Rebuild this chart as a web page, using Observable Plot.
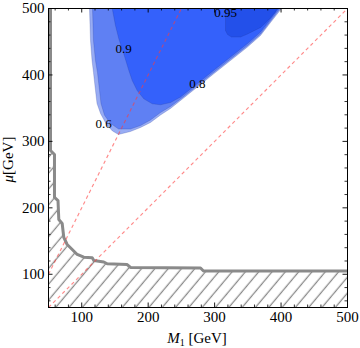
<!DOCTYPE html>
<html><head><meta charset="utf-8">
<script src="https://cdn.jsdelivr.net/npm/d3@7"></script>
<script src="https://cdn.jsdelivr.net/npm/@observablehq/plot@0.6"></script>
<style>body{margin:0;background:#fff;}</style>
</head><body><div id="chart"></div>
<script>
// ---- data (M1 [GeV], mu [GeV]) ----
const xTicks = [100, 200, 300, 400, 500];
const yTicks = [100, 200, 300, 400, 500];
const minorTicks = [60, 80, 120, 140, 160, 180, 220, 240, 260, 280, 320, 340, 360, 380, 420, 440, 460, 480];

// region with fraction >= 0.6
const level06 = [[111.7,500],[113.2,451.8],[115.5,421.7],[117.7,403.7],[120.7,376.6],[123,357],[128.3,342],[137.3,325.4],[146.3,315.6],[155.4,310.4],
  [173.4,314.9],[188.5,320.9],[203.5,328.4],[218.6,339.7],[233.6,349.5],[248.7,361.5],[263.7,373.6],[278.8,385.6],[298.3,401.4],[323.9,421.7],[349.5,442.1],[369.1,459.4],[384.1,478.9],[400.7,500]];
// region with fraction >= 0.8
const level08 = [[116.2,500],[117.7,451.8],[120.7,421.7],[123.7,403.7],[126.8,376.6],[129,357],[134.3,339.5],[142.6,327.7],[155.4,318.6],[173.4,318.6],[188.5,323.9],[203.5,332.2],
  [218.6,343.5],[233.6,352.5],[248.7,363.8],[263.7,375.8],[278.8,387.9],[298.3,403.7],[323.9,424],[349.5,444.3],[369.1,461.6],[384.1,481.2],[398.4,500]];
// region with fraction >= 0.9
const level09 = [[145.9,500],[150.8,474.4],[155.8,454.4],[163.3,431.8],[170.9,406.7],[176,391.6],[183.5,376.6],[193.4,364.1],[206.1,356.6],[218.6,355.1],
  [233.6,358.5],[248.7,366.8],[263.7,378.8],[278.8,390.9],[298.3,406.7],[323.9,427],[349.5,447.3],[369.1,464.6],[384.1,484.2],[396.2,500]];
// region with fraction >= 0.95
const level095 = [[316.4,500],[316.4,466.9],[319.4,460.9],[325.4,457.1],[339,457.1],[349.5,461.6],[369.1,471.4],[381.1,482.7],[390.1,493.2],[394.6,500]];

// boundary of the excluded (hatched) region
const excludedEdge = [[53,500],[53,286.3],[59,280.3],[59,215.6],[64.3,211],[65.5,182.4],[70.6,176.4],[73,155.4],[78.1,144.8],[85.7,137.3],[93.2,129.8],[103.1,125.7],[115.8,124.8],[118.2,120.8],[133.2,118.5],[138.3,115.8],[168.4,114.7],[173.4,110.3],[278.8,109.5],[283.3,105],[500,105]];
const excludedCorners = [[500,50],[50,50],[50,500]];

// reference lines mu = M1 and mu = 2 M1 (start / end points)
const refStartM1 = [50, 50];
const refStartMu = [50, 100];
const refEndM1 = [500, 250];
const refEndMu = [500, 500];

// contour labels
const contourText = ["0.6", "0.8", "0.9", "0.95"];
const contourM1 = [133, 274, 163, 316.4];
const contourMu = [326.5, 387, 439, 493];

// ---- chart ----
const labels = contourText.map((t, i) => ({t, x: contourM1[i], y: contourMu[i]}));
const refLines = refStartM1.map((x1, i) => ({x1, y1: refStartMu[i], x2: refEndM1[i], y2: refEndMu[i]}));
const P = {x: d => d[0], y: d => d[1]};
const edgeStroke = {stroke: "#1c2f8c", strokeOpacity: 0.3, strokeWidth: 0.7, clip: true};
const FH = 299; // frame size in px

const chart = Plot.plot({
  width: 360, height: 348,
  marginLeft: 48, marginRight: 13, marginTop: 8, marginBottom: 41,
  x: {domain: [50, 500], label: null},
  y: {domain: [50, 500], label: null},
  style: {fontFamily: "'Liberation Serif', serif", fontSize: "15px", background: "#fff", color: "black"},
  marks: [
    Plot.line(level06, {...P, fill: "#98acf4", ...edgeStroke}),
    Plot.line(level08, {...P, fill: "#5f80f3", ...edgeStroke}),
    Plot.line(level09, {...P, fill: "#3461fb", ...edgeStroke}),
    Plot.line(level095, {...P, fill: "#2350ea", ...edgeStroke}),
    Plot.line(excludedEdge.concat(excludedCorners), {...P, fill: "url(#hatch)", stroke: "none", clip: true}),
    Plot.line(excludedEdge, {...P, stroke: "#8a8a8a", strokeWidth: 3, strokeLinejoin: "round", clip: true}),
    Plot.link(refLines, {x1: "x1", y1: "y1", x2: "x2", y2: "y2", stroke: "#ff3c3c", strokeOpacity: 0.6, strokeWidth: 1.15, strokeDasharray: "3.5,3", clip: true}),
    Plot.text(labels, {x: "x", y: "y", text: "t", fontSize: 13, fill: "black"}),
    Plot.frame({stroke: "black", strokeWidth: 1}),
    // inward ticks on all four sides
    Plot.ruleX(minorTicks, {x: d => d, insetTop: FH - 2.5, strokeWidth: 0.8}),
    Plot.ruleX(minorTicks, {x: d => d, insetBottom: FH - 2.5, strokeWidth: 0.8}),
    Plot.ruleY(minorTicks, {y: d => d, insetRight: FH - 2.5, strokeWidth: 0.8}),
    Plot.ruleY(minorTicks, {y: d => d, insetLeft: FH - 2.5, strokeWidth: 0.8}),
    Plot.ruleX(xTicks, {x: d => d, insetTop: FH - 4.5, strokeWidth: 0.9}),
    Plot.ruleX(xTicks, {x: d => d, insetBottom: FH - 4.5, strokeWidth: 0.9}),
    Plot.ruleY(yTicks, {y: d => d, insetRight: FH - 4.5, strokeWidth: 0.9}),
    Plot.ruleY(yTicks, {y: d => d, insetLeft: FH - 4.5, strokeWidth: 0.9}),
    Plot.axisX({ticks: xTicks, tickSize: 0, tickPadding: 4, fontSize: 15}),
    Plot.axisY({ticks: yTicks, tickSize: 0, tickPadding: 4, fontSize: 15})
  ]
});

const svg = d3.select(chart);
const defs = svg.insert("defs", ":first-child");
const pat = defs.append("pattern").attr("id", "hatch")
  .attr("patternUnits", "userSpaceOnUse").attr("width", 10.2).attr("height", 10.2)
  .attr("patternTransform", "rotate(40)");
pat.append("line").attr("x1", 5).attr("y1", -1).attr("x2", 5).attr("y2", 11.2)
  .attr("stroke", "#8a8a8a").attr("stroke-width", 1.3);

// axis titles
const xt = svg.append("text").attr("x", 197).attr("y", 343).attr("text-anchor", "middle")
  .attr("font-family", "'Liberation Serif', serif").attr("font-size", 15).attr("fill", "black");
xt.append("tspan").attr("font-style", "italic").text("M");
xt.append("tspan").attr("font-size", 10).attr("dy", 3).text("1");
xt.append("tspan").attr("dy", -3).text(" [GeV]");

const yt = svg.append("text").attr("transform", "translate(13,159.5) rotate(-90)").attr("text-anchor", "middle")
  .attr("font-family", "'Liberation Serif', serif").attr("font-size", 15).attr("fill", "black");
yt.append("tspan").attr("font-style", "italic").text("μ");
yt.append("tspan").text("[GeV]");

document.getElementById("chart").appendChild(chart);
</script>
</body></html>
